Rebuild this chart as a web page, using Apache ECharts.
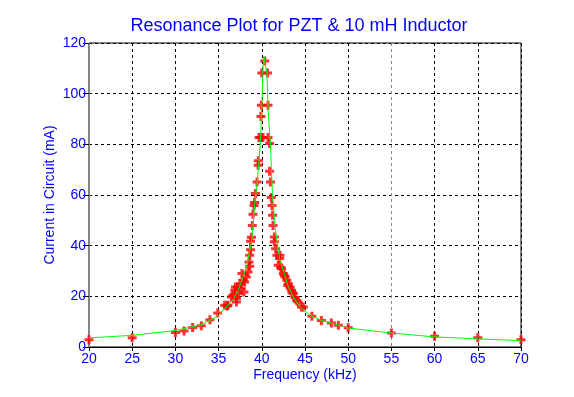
<!DOCTYPE html>
<html>
<head>
<meta charset="utf-8">
<script src="https://cdn.jsdelivr.net/npm/echarts@6/dist/echarts.min.js"></script>
<style>
  html, body { margin: 0; padding: 0; background: #fff; }
  #chart { width: 574px; height: 397px; }
</style>
</head>
<body>
<div id="chart"></div>
<script>
// measured points (kHz, mA)
const freqMeasured = [
  20, 25, 30, 31, 32, 33, 34, 34.9, 35.7, 36.0, 36.08, 36.48, 36.67, 36.87, 36.95, 37.06, 37.06,
  37.25, 37.56, 37.7, 37.8, 37.94, 38.0, 38.2, 38.4, 38.52, 38.6, 38.6, 38.7, 38.7, 38.8, 38.9,
  38.98, 39.1, 39.17, 39.26, 39.45, 39.57, 39.6, 39.68, 39.9, 39.9, 39.95, 40.0, 40.14, 40.34,
  40.65, 40.72, 40.72, 40.9, 40.9, 41.0, 41.1, 41.18, 41.25, 41.3, 41.45, 41.45, 41.6, 41.75,
  41.9, 42.07, 42.1, 42.3, 42.5, 42.7, 42.9, 43.08, 43.27, 43.46, 43.65, 43.85, 44.04, 44.2,
  44.6, 44.8, 45.8, 46.9, 48.05, 48.86, 50.0, 55, 60, 65, 70,
  42.2, 42.6, 43.0, 43.5, 37.3, 37.6
];
const currentMeasured = [
  2.9, 3.7, 5.7, 6.3, 7.7, 8.4, 10.8, 13.4, 16.5, 16.2, 16.5, 19.7, 20.4, 22.4, 23.7, 19.1, 17.8,
  23.7, 25.0, 29.0, 26.3, 21.7, 25.7, 27.6, 29.6, 33.6, 36.2, 31.9, 38.4, 41.7, 43.3, 48.0,
  52.4, 55.9, 57.0, 60.6, 65.1, 71.7, 73.5, 82.7, 91.0, 82.7, 95.4, 108.2, 82.7, 112.9,
  108.2, 95.4, 82.7, 80.3, 69.4, 65.1, 59.0, 55.9, 52.0, 48.0, 43.4, 41.5, 38.8, 36.2,
  32.3, 34.9, 36.2, 30.9, 29.0, 27.6, 26.3, 25.0, 23.7, 22.4, 21.1, 19.5, 18.4, 17.8,
  15.8, 15.8, 12.1, 10.5, 9.5, 8.6, 7.6, 5.5, 4.2, 3.7, 2.9,
  31.5, 28.2, 24.3, 21.5, 21.0, 23.0
];

// fitted curve (kHz, mA)
const freqFit = [
  20, 25, 30, 33, 34.87, 35.7, 36.67, 37.25, 37.82, 38.33, 38.6, 38.8, 38.98, 39.17, 39.45,
  39.68, 39.87, 39.95, 40.07, 40.14, 40.25, 40.4, 40.6, 40.72, 40.83, 41.0, 41.1, 41.23, 41.46,
  41.6, 41.84, 42.1, 42.6, 43.08, 43.65, 44.4, 45.6, 46.9, 49.0, 50, 55, 60, 65, 70
];
const currentFit = [
  3.6, 4.6, 6.5, 8.8, 12.1, 15.1, 18.7, 22.4, 27.6, 32.9, 38.2, 41.0, 48.0, 56.6, 64.5,
  73.7, 82.9, 90.8, 101.3, 110.5, 114.5, 114.5, 107.9, 94.7, 88.2, 80.3, 71.0, 60.6, 51.3,
  46.0, 40.0, 34.2, 29.0, 23.7, 19.7, 15.8, 12.5, 10.5, 8.6, 7.5, 5.5, 4.0, 3.2, 2.5
];

const xTicks = [20, 25, 30, 35, 40, 45, 50, 55, 60, 65, 70];
// the 55 kHz grid line is grey in the original
const vGridColors = xTicks.map(t => t === 55 ? '#888' : '#000');

const blue = '#0000ff';
const labelFont = { color: blue, fontFamily: 'Liberation Sans, Arial', fontSize: 14 };

const chart = echarts.init(document.getElementById('chart'));
chart.setOption({
  animation: false,
  backgroundColor: '#fff',
  title: {
    text: 'Resonance Plot for PZT & 10 mH Inductor',
    left: 294, top: 12, textAlign: 'center',
    textStyle: { color: blue, fontFamily: 'Liberation Sans, Arial', fontSize: 18, fontWeight: 'normal' }
  },
  grid: {
    left: 89, top: 43, right: 53, bottom: 50,
    show: true, borderColor: '#000', borderWidth: 1
  },
  xAxis: {
    type: 'value', min: 20, max: 70, interval: 5,
    name: 'Frequency (kHz)', nameLocation: 'middle', nameGap: 21,
    nameMoveOverlap: false,
    nameTextStyle: labelFont,
    axisLine: { lineStyle: { color: '#000', width: 1 } },
    axisTick: { show: true, length: 4, lineStyle: { color: '#000' } },
    axisLabel: Object.assign({ margin: 5 }, labelFont),
    splitLine: { show: true, lineStyle: { color: vGridColors, type: [3, 3] } }
  },
  yAxis: {
    type: 'value', min: 0, max: 120, interval: 20,
    name: 'Current in Circuit (mA)', nameLocation: 'middle', nameGap: 32,
    nameMoveOverlap: false,
    nameTextStyle: labelFont,
    axisLine: { show: true, lineStyle: { color: '#888', width: 1 } },
    axisTick: { show: true, length: 6, lineStyle: { color: '#000' } },
    axisLabel: Object.assign({ margin: 3 }, labelFont),
    splitLine: { show: true, lineStyle: { color: '#000', type: [3, 3] } }
  },
  series: [
    {
      type: 'scatter',
      data: freqMeasured.map((f, i) => [f, currentMeasured[i]]),
      symbol: 'path://M3,0h3v3h3v3h-3v3h-3v-3h-3v-3h3z',
      symbolSize: 9,
      itemStyle: { color: '#ff0000' },
      z: 2
    },
    {
      type: 'line',
      data: freqFit.map((f, i) => [f, currentFit[i]]),
      showSymbol: false,
      lineStyle: { color: '#00ff00', width: 1 },
      z: 3
    }
  ]
});
</script>
</body>
</html>
